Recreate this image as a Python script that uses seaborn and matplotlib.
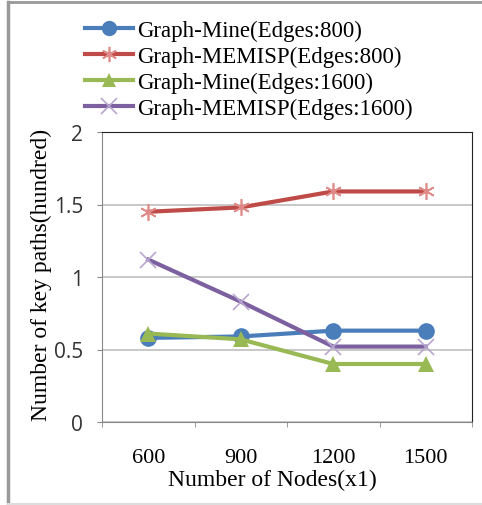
import pandas as pd
import seaborn as sns
import matplotlib.pyplot as plt
from matplotlib.lines import Line2D

nodes = ["600", "900", "1200", "1500"]
mine_800 = [0.58, 0.59, 0.63, 0.63]
memisp_800 = [1.45, 1.48, 1.59, 1.59]
mine_1600 = [0.61, 0.57, 0.40, 0.40]
memisp_1600 = [1.12, 0.83, 0.52, 0.52]

series = ["Graph-Mine(Edges:800)", "Graph-MEMISP(Edges:800)",
          "Graph-Mine(Edges:1600)", "Graph-MEMISP(Edges:1600)"]
values = [mine_800, memisp_800, mine_1600, memisp_1600]
colors = ["#4A7EBB", "#BE4B48", "#98B954", "#7D60A0"]
marker_colors = ["#4A7EBB", "#E08A88", "#98B954", "#B8A6D0"]
markers = ["o", (6, 2, 0), "^", "x"]
msizes = [12, 12, 11, 12]

rows = []
for name, vals in zip(series, values):
    for n, v in zip(nodes, vals):
        rows.append({"nodes": n, "paths": v, "series": name})
df = pd.DataFrame(rows)

serif = ["Liberation Serif", "DejaVu Serif"]

fig = plt.figure(figsize=(4.82, 5.06), dpi=100)
ax = fig.add_axes([102 / 482, 1 - 423 / 506, 370 / 482, 290 / 506])

for i, name in enumerate(series):
    sub = df[df["series"] == name]
    sns.lineplot(data=sub, x="nodes", y="paths", ax=ax, color=colors[i], lw=3,
                 marker=markers[i], markersize=msizes[i], markerfacecolor=marker_colors[i],
                 markeredgecolor=marker_colors[i], markeredgewidth=1.2 if i in (1, 3) else 0,
                 legend=False, zorder=4 if i == 2 else 3)

ax.set_xlim(-0.5, 3.5)
ax.set_ylim(0, 2)
ax.set_yticks([0, 0.5, 1, 1.5, 2])
ax.set_yticklabels(["0", "0.5", "1", "1.5", "2"], fontsize=15, color="#333333",
                   family=["Open Sans", "DejaVu Sans"])
ax.set_xticks(range(4))
ax.set_xticklabels(nodes, fontsize=16, family=serif)
ax.set_xticks([-0.5, 0.5, 1.5, 2.5, 3.5], minor=True)
ax.tick_params(axis="x", which="major", length=0, pad=19)
ax.tick_params(axis="x", which="minor", length=3.6, color="#888888", direction="out")
ax.tick_params(axis="y", length=3.6, color="#888888", pad=10)

ax.grid(axis="y", color="#BFBFBF", lw=1.2)
ax.set_axisbelow(True)
for side in ["left", "bottom"]:
    ax.spines[side].set_color("#888888")
for side in ["top", "right"]:
    ax.spines[side].set_color("#222222")

ax.set_xlabel("Number of Nodes(x1)", fontsize=17, family=serif)
ax.xaxis.set_label_coords(0.46, -0.16)
ax.set_ylabel("Number of key paths(hundred)", fontsize=17, family=serif)
ax.yaxis.set_label_coords(-0.135, 0.51)

handles = [Line2D([], [], color=colors[i], lw=3, marker=markers[i], markersize=msizes[i] - 1,
                  markerfacecolor=marker_colors[i], markeredgecolor=marker_colors[i],
                  markeredgewidth=1.2 if i in (1, 3) else 0) for i in range(4)]
fig.legend(handles, series, loc="upper left", bbox_to_anchor=(76 / 482, 1 - 12 / 506),
           frameon=False, prop={"family": serif, "size": 16.5}, handlelength=2.1,
           handletextpad=0.15, labelspacing=0.2, borderaxespad=0)

# outer frame of the picture
fig.add_artist(Line2D([8 / 482, 8 / 482], [0.002, 1 - 3 / 506], color="#999999", lw=2.5,
                      transform=fig.transFigure))
fig.add_artist(Line2D([8 / 482, 1], [1 - 3 / 506, 1 - 3 / 506], color="#999999", lw=2,
                      transform=fig.transFigure))
fig.add_artist(Line2D([8 / 482, 1], [0.002, 0.002], color="#DDDDDD", lw=1.5,
                      transform=fig.transFigure))

plt.savefig("out.png", dpi=100)
